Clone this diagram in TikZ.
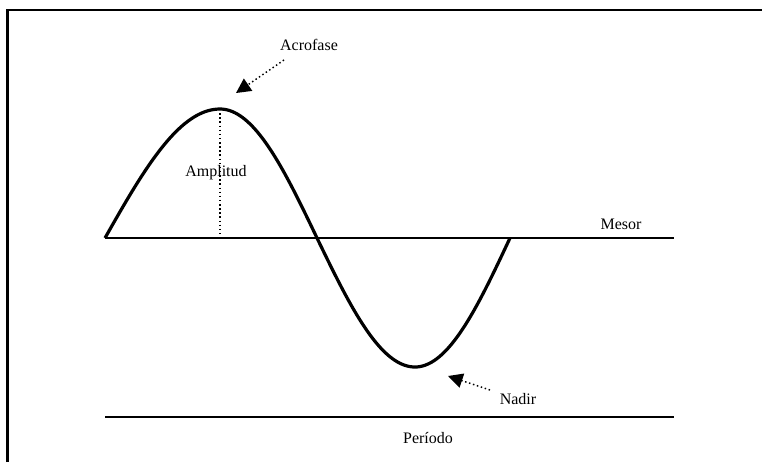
\documentclass[tikz,border=0pt]{standalone}
\usepackage{fontspec}
\setmainfont{Liberation Serif}
\usetikzlibrary{arrows.meta}
\begin{document}
\begin{tikzpicture}[x=0.75pt,y=-0.75pt,
  lbl/.style={font=\fontsize{12}{14}\selectfont, inner sep=0pt},
  frame/.style={line width=1.6pt},
  baseline/.style={line width=1.4pt},
  wave/.style={line width=2.4pt, line join=round},
  ptr/.style={dotted, line width=1.1pt, -{Triangle[length=11pt,width=11pt]}}]
\useasboundingbox (0,0) rectangle (762,462);
% frame (left and top)
\coordinate (fbl) at (7.5,462);
\coordinate (ftl) at (7.5,10);
\coordinate (ftr) at (762,10);
\draw[frame] (fbl) -- (ftl) -- (ftr);
% mesor line
\coordinate (m0) at (105,238);
\coordinate (m1) at (674,238);
\draw[baseline] (m0) -- (m1);
% period line
\coordinate (p0) at (105,417);
\coordinate (p1) at (674,417);
\draw[baseline] (p0) -- (p1);
% sine wave, quarter by quarter
\draw[wave]
  plot[domain=0:90, samples=40] ({105+1.2778*\x},{238-129*sin(\x)})
  -- plot[domain=90:180, samples=40] ({220+1.0778*(\x-90)},{238-129*sin(\x)})
  -- plot[domain=180:270, samples=40] ({317+1.0889*(\x-180)},{238-129*sin(\x)})
  -- plot[domain=270:360, samples=40] ({415+1.0556*(\x-270)},{238-129*sin(\x)});
% amplitude dotted line
\coordinate (peak) at (220,109);
\coordinate (peakbase) at (220,238);
\draw[dotted, line width=1.1pt] (peak) -- (peakbase);
% labels
\node[lbl] (amp) at (216,173) {Amplitud};
\node[lbl] (acro) at (309,45) {Acrofase};
\node[lbl] (mesor) at (621,224) {Mesor};
\node[lbl] (nadir) at (518,399) {Nadir};
\node[lbl] (periodo) at (428,438) {Período};
% pointers
\coordinate (a0) at (284,60);
\coordinate (a1) at (236,93);
\draw[ptr] (a0) -- (a1);
\coordinate (n0) at (490,390);
\coordinate (n1) at (448,376);
\draw[ptr] (n0) -- (n1);
\end{tikzpicture}
\end{document}
